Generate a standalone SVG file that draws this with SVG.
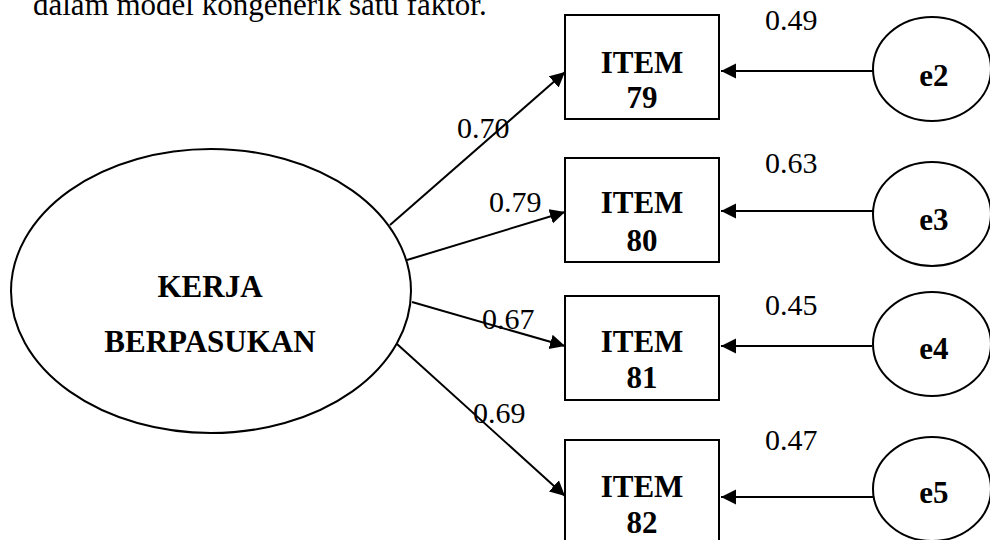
<svg xmlns="http://www.w3.org/2000/svg" width="990" height="540" viewBox="0 0 990 540">
<style>
.bg{fill:#ffffff}
.shape{fill:#ffffff;stroke:#000000;stroke-width:2}
.conn{stroke:#000000;stroke-width:2;fill:none}
.b{font-family:"Liberation Serif","Times New Roman",serif;font-weight:bold;font-size:31px;fill:#000000;text-anchor:middle}
.lbl{font-family:"Liberation Serif","Times New Roman",serif;font-size:30px;fill:#000000}
.title{font-family:"Liberation Serif","Times New Roman",serif;font-size:31px;fill:#000000}
</style>
<defs>
<marker id="arr" markerUnits="userSpaceOnUse" markerWidth="16" markerHeight="16" viewBox="0 0 16 16" refX="15" refY="8" orient="auto">
<path d="M0,0.5 L15,8 L0,15.5 Z" fill="#000000"/>
</marker>
</defs>
<rect class="bg" x="0" y="0" width="990" height="540"/>
<text class="title" x="33" y="15">dalam model kongenerik satu faktor.</text>

<g id="connectors">
<line class="conn" x1="390" y1="225" x2="565" y2="72" marker-end="url(#arr)"/>
<line class="conn" x1="407" y1="260" x2="565" y2="212" marker-end="url(#arr)"/>
<line class="conn" x1="412" y1="302" x2="565" y2="346" marker-end="url(#arr)"/>
<line class="conn" x1="397" y1="344" x2="565" y2="496" marker-end="url(#arr)"/>
<line class="conn" x1="873" y1="71" x2="721" y2="71" marker-end="url(#arr)"/>
<line class="conn" x1="873" y1="211" x2="721" y2="211" marker-end="url(#arr)"/>
<line class="conn" x1="872" y1="346" x2="721" y2="346" marker-end="url(#arr)"/>
<line class="conn" x1="873" y1="497" x2="721" y2="497" marker-end="url(#arr)"/>
<text class="lbl" x="457" y="138">0.70</text>
<text class="lbl" x="489" y="212">0.79</text>
<text class="lbl" x="482" y="329">0.67</text>
<text class="lbl" x="473" y="423">0.69</text>
<text class="lbl" x="765" y="30">0.49</text>
<text class="lbl" x="765" y="173">0.63</text>
<text class="lbl" x="765" y="315">0.45</text>
<text class="lbl" x="765" y="450">0.47</text>
</g>

<g id="kerja">
<ellipse class="shape" cx="211" cy="291" rx="200" ry="142"/>
<text class="b" x="210" y="297">KERJA</text>
<text class="b" x="210" y="352">BERPASUKAN</text>
</g>

<g id="item79">
<rect class="shape" x="565" y="15" width="154" height="104"/>
<text class="b" x="642" y="73">ITEM</text>
<text class="b" x="642" y="108">79</text>
</g>
<g id="item80">
<rect class="shape" x="565" y="158" width="154" height="104"/>
<text class="b" x="642" y="213">ITEM</text>
<text class="b" x="642" y="251">80</text>
</g>
<g id="item81">
<rect class="shape" x="565" y="296" width="154" height="104"/>
<text class="b" x="642" y="352">ITEM</text>
<text class="b" x="642" y="388">81</text>
</g>
<g id="item82">
<rect class="shape" x="565" y="440" width="154" height="104"/>
<text class="b" x="642" y="497">ITEM</text>
<text class="b" x="642" y="533">82</text>
</g>

<g id="e2">
<ellipse class="shape" cx="932" cy="69" rx="59" ry="52"/>
<text class="b" x="934" y="86">e2</text>
</g>
<g id="e3">
<ellipse class="shape" cx="932" cy="214" rx="59" ry="52"/>
<text class="b" x="934" y="230">e3</text>
</g>
<g id="e4">
<ellipse class="shape" cx="932" cy="344" rx="59" ry="52"/>
<text class="b" x="934" y="359">e4</text>
</g>
<g id="e5">
<ellipse class="shape" cx="932" cy="489" rx="59" ry="52"/>
<text class="b" x="934" y="503">e5</text>
</g>
</svg>
